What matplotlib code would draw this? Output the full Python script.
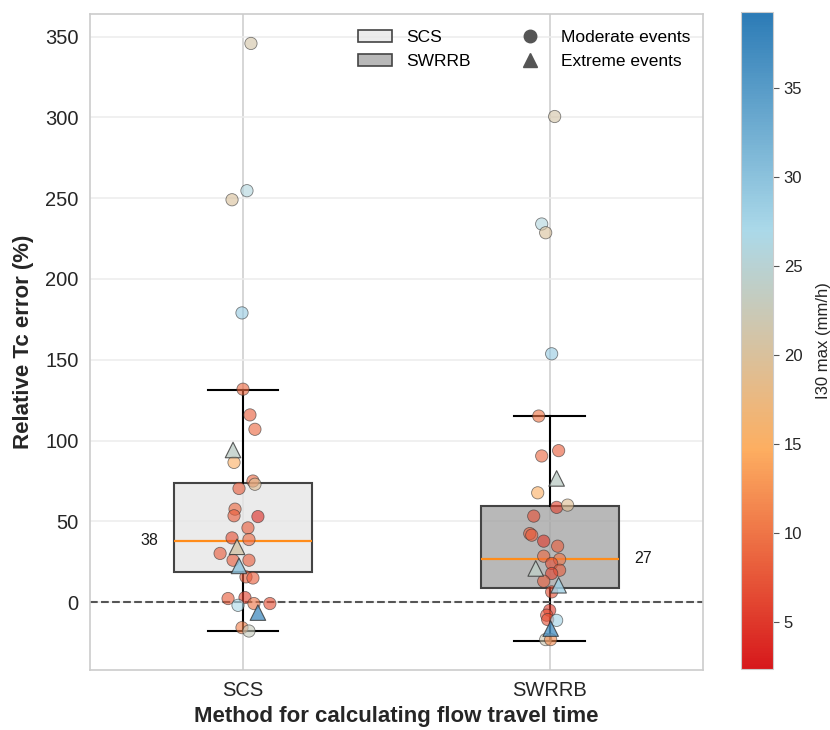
import numpy as np
import matplotlib
matplotlib.use("Agg")
import matplotlib.pyplot as plt
from matplotlib.colors import LinearSegmentedColormap, Normalize
from matplotlib.cm import ScalarMappable
from matplotlib.patches import Patch
from matplotlib.lines import Line2D

plt.rcParams['font.family'] = ['Liberation Sans', 'DejaVu Sans']

methods = ["SCS", "SWRRB"]

# ---------- box summary (percent error) ----------
box_q1 = [19.0, 8.7]
box_med = [38.0, 27.0]
box_q3 = [73.5, 59.5]
box_lo = [-18.0, -24.0]
box_hi = [131.5, 115.5]

# ---------- individual events: error, I30 max, extreme flag ----------
scs_err = [345.7, 254.6, 249.0, 179.0, 131.8, 115.9, 107.0, 94.2, 86.5, 75.0, 73.0,
           70.4, 57.6, 53.5, 53.0, 46.0, 39.8, 38.8, 34.3, 30.2, 26.0, 26.0, 22.5,
           15.7, 15.0, 2.3, 2.9, -1.9, -0.8, -0.8, -6.4, -15.7, -17.8]
scs_i30 = [21, 26, 20, 29, 9, 8, 9, 24, 15, 9, 19,
           8, 9, 8, 4, 8, 7, 9, 21, 8, 8, 8, 30,
           8, 8, 8, 6, 27, 10, 7, 36, 11, 23]
scs_ext = [0, 0, 0, 0, 0, 0, 0, 1, 0, 0, 0,
           0, 0, 0, 0, 0, 0, 0, 1, 0, 0, 0, 1,
           0, 0, 0, 0, 0, 0, 0, 1, 0, 0]

swrrb_err = [300.5, 234.0, 228.6, 153.7, 115.2, 93.8, 90.5, 76.6, 67.7, 58.7, 60.1,
             53.3, 42.5, 41.5, 37.8, 34.7, 28.5, 26.5, 24.0, 20.9, 19.8, 17.8,
             13.0, 10.5, 6.4, -5.0, -8.0, -10.7, -11.2, -16.3, -23.1, -23.1]
swrrb_i30 = [21, 26, 20, 29, 10, 8, 9, 24, 15, 6, 19,
             7, 8, 8, 5, 8, 9, 10, 7, 24, 8, 6,
             8, 28, 7, 5, 7, 7, 28, 36, 22, 12]
swrrb_ext = [0, 0, 0, 0, 0, 0, 0, 1, 0, 0, 0,
             0, 0, 0, 0, 0, 0, 0, 0, 1, 0, 0,
             0, 1, 0, 0, 0, 0, 0, 1, 0, 0]

# horizontal spread of the strip points around each box centre
scs_jit = [8, 4, -11, -1, 0, 7, 12, -10, -9, 10, 12,
           -4, -8, -9, 15, 5, -11, 6, -6, -23, -10, 6, -4,
           3, 10, -15, 2, -5, 11, 27, 15, -1, 6]
swrrb_jit = [5, -8, -4, 2, -11, 9, -8, 7, -12, 7, 18,
             -16, -20, -18, -6, 8, -6, 10, 2, -14, 10, 2,
             -6, 9, 2, 0, -3, -2, 7, 1, -4, 1]

cmap = LinearSegmentedColormap.from_list("i30", ["#d7191c", "#fdae61", "#abd9e9", "#2c7bb6"])
norm = Normalize(vmin=2.4, vmax=39.3)

fig = plt.figure(figsize=(8.3, 7.3), dpi=100)
ax = fig.add_axes([0.108, 0.082, 0.739, 0.899])
cax = fig.add_axes([0.893, 0.084, 0.0386, 0.9])

ax.set_axisbelow(True)
ax.xaxis.grid(True, color="#cccccc", lw=1.1)
ax.yaxis.grid(True, color="#ececec", lw=1.1)
for sp in ax.spines.values():
    sp.set_color("#cccccc")
    sp.set_linewidth(1.2)

# ---------- boxes ----------
stats = []
for i in range(len(methods)):
    stats.append(dict(med=box_med[i], q1=box_q1[i], q3=box_q3[i],
                      whislo=box_lo[i], whishi=box_hi[i], label=methods[i]))
box_faces = [(0.9, 0.9, 0.9, 0.8), (0.65, 0.65, 0.65, 0.8)]
bp = ax.bxp(stats, positions=[0, 1], widths=0.45, capwidths=0.23, showfliers=False,
            patch_artist=True,
            boxprops=dict(edgecolor="#444444", linewidth=1.5),
            whiskerprops=dict(color="black", linewidth=1.5),
            capprops=dict(color="black", linewidth=1.5),
            medianprops=dict(color="#ff8c1a", linewidth=1.6))
for patch, fc in zip(bp["boxes"], box_faces):
    patch.set_facecolor(fc)

ax.axhline(0, color="#555555", ls="--", lw=1.5, zorder=2)

# ---------- events ----------
groups = [(scs_err, scs_i30, scs_ext, scs_jit), (swrrb_err, swrrb_i30, swrrb_ext, swrrb_jit)]
for pos, (err, i30, ext, jit) in enumerate(groups):
    err = np.array(err)
    i30 = np.array(i30)
    ext = np.array(ext, dtype=bool)
    x = pos + np.array(jit) / 308.0
    ax.scatter(x[~ext], err[~ext], c=i30[~ext], cmap=cmap, norm=norm, s=78, marker="o",
               edgecolors="#333333", linewidths=0.6, alpha=0.62, zorder=4)
    ax.scatter(x[ext], err[ext], c=i30[ext], cmap=cmap, norm=norm, s=125, marker="^",
               edgecolors="#333333", linewidths=0.8, alpha=0.8, zorder=5)

# median values beside the boxes
ax.text(0 - 0.305, box_med[0], f"{box_med[0]:.0f}", ha="center", va="center", fontsize=11.5, color="#1a1a1a")
ax.text(1 + 0.305, box_med[1], f"{box_med[1]:.0f}", ha="center", va="center", fontsize=11.5, color="#1a1a1a")

ax.set_xlim(-0.5, 1.5)
ax.set_ylim(-42, 364)
ax.set_xticks([0, 1])
ax.set_xticklabels(methods)
ax.set_yticks(np.arange(0, 351, 50))
ax.tick_params(axis="both", length=0, labelsize=14.5, labelcolor="#262626", pad=8)
ax.set_ylabel("Relative Tc error (%)", fontsize=16, fontweight="bold", color="#262626", labelpad=8)
ax.set_xlabel("Method for calculating flow travel time", fontsize=16, fontweight="bold",
              color="#262626", labelpad=4)

handles = [Patch(facecolor=box_faces[0], edgecolor="#444444", linewidth=1.2, label="SCS"),
           Patch(facecolor=box_faces[1], edgecolor="#444444", linewidth=1.2, label="SWRRB"),
           Line2D([], [], ls="none", marker="o", color="#555555", markersize=9, label="Moderate events"),
           Line2D([], [], ls="none", marker="^", color="#555555", markersize=10, label="Extreme events")]
ax.legend(handles=handles, ncol=2, loc="upper right", bbox_to_anchor=(1.009, 1.003),
          frameon=False, fontsize=12.5, columnspacing=2.4, handlelength=2.0, borderaxespad=0.65)

# ---------- colour bar ----------
sm = ScalarMappable(norm=norm, cmap=cmap)
cb = fig.colorbar(sm, cax=cax)
cb.set_ticks(np.arange(5, 36, 5))
cb.outline.set_edgecolor("#cccccc")
cax.tick_params(labelsize=12, labelcolor="#262626", color="#555555", length=4)
cb.set_label("I30 max (mm/h)", fontsize=12, color="#262626", labelpad=10)

fig.savefig("out.png", dpi=100)
